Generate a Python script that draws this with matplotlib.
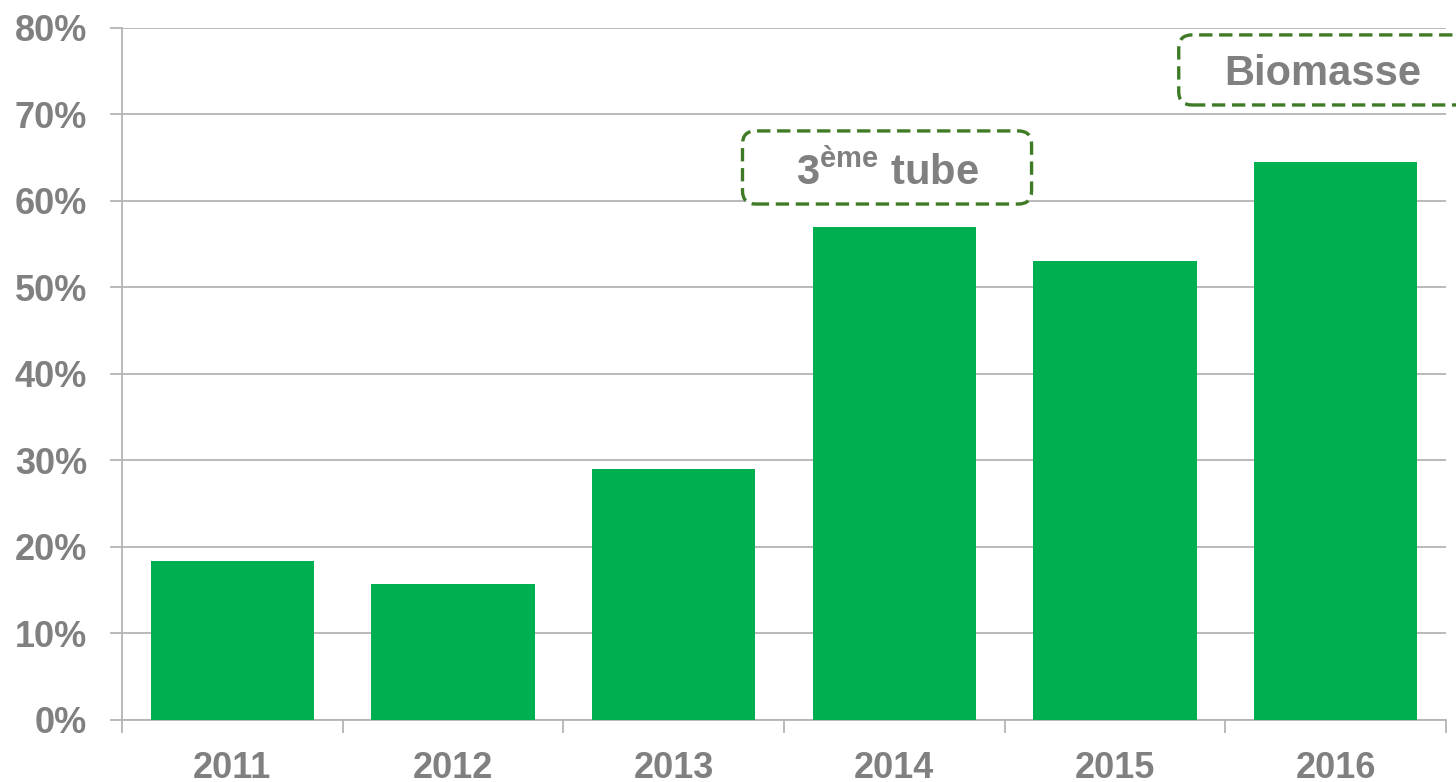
import matplotlib
matplotlib.use("Agg")
import matplotlib.pyplot as plt
from matplotlib.patches import FancyBboxPatch
from matplotlib.ticker import FixedLocator

plt.rcParams['font.family'] = ['Liberation Sans', 'DejaVu Sans']
plt.rcParams['mathtext.fontset'] = 'custom'
plt.rcParams['mathtext.rm'] = 'Liberation Sans:bold'
plt.rcParams['mathtext.bf'] = 'Liberation Sans:bold'

years = ['2011', '2012', '2013', '2014', '2015', '2016']
values = [18.4, 15.7, 29.0, 57.0, 53.1, 64.5]
yticks = [0, 10, 20, 30, 40, 50, 60, 70, 80]

green = '#00b050'
gray = '#808080'
grid_gray = '#b4b4b4'
box_green = '#3f7a25'

fig = plt.figure(figsize=(14.56, 7.82), dpi=100)
ax = fig.add_axes([0.0838, 0.0793, 0.9093, 0.8849])

x = list(range(len(years)))
ax.bar(x, values, width=0.74, color=green, zorder=3)

ax.set_xlim(-0.5, len(years) - 0.5)
ax.set_ylim(0, 80)
ax.set_yticks(yticks)
ax.set_yticklabels([f'{v}%' for v in yticks])
ax.set_xticks(x)
ax.set_xticklabels(years)
ax.xaxis.set_minor_locator(FixedLocator([i - 0.5 for i in range(len(years) + 1)]))

ax.grid(axis='y', color=grid_gray, linewidth=1.3, zorder=0)
for s in ['top', 'right']:
    ax.spines[s].set_visible(False)
for s in ['left', 'bottom']:
    ax.spines[s].set_color(grid_gray)
    ax.spines[s].set_linewidth(1.3)

ax.tick_params(axis='y', length=9, width=1.3, color=grid_gray, pad=16,
               labelsize=26, labelcolor=gray)
ax.tick_params(axis='x', which='major', length=0, pad=22,
               labelsize=26, labelcolor=gray)
ax.tick_params(axis='x', which='minor', length=9, width=1.3, color=grid_gray)
for lab in ax.get_xticklabels() + ax.get_yticklabels():
    lab.set_fontweight('bold')

# annotation boxes (data coords; aspect corrects the corner radius)
aspect = (1324 / 6) / (692 / 80)
boxes = [
    (2.312, 59.65, 1.31, 8.45, r'3$^{\mathrm{ème}}$ tube', 2.967, 63.3),
    (4.289, 71.1, 1.33, 8.1, 'Biomasse', 4.941, 74.7),
]
for bx, by, bw, bh, label, tx, ty in boxes:
    patch = FancyBboxPatch((bx, by), bw, bh,
                           boxstyle='round,pad=0,rounding_size=0.06',
                           mutation_aspect=aspect, facecolor='white',
                           edgecolor=box_green, linewidth=2.4,
                           linestyle=(0, (4, 2)), clip_on=False, zorder=5)
    ax.add_patch(patch)
    ax.text(tx, ty, label, ha='center', va='center', fontsize=30,
            fontweight='bold', color=gray, zorder=6)

fig.savefig('out.png', dpi=100)
